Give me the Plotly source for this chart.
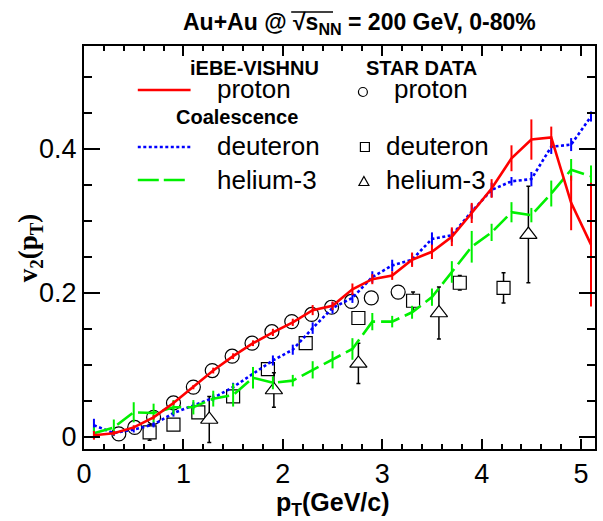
import plotly.graph_objects as go

# ---------------- data ----------------
pt_model = [0.1, 0.3, 0.5, 0.7, 0.9, 1.1, 1.3, 1.5, 1.7, 1.9, 2.1, 2.3, 2.5,
            2.7, 2.9, 3.1, 3.3, 3.5, 3.7, 3.9, 4.1, 4.3, 4.5, 4.7, 4.9, 5.1]

proton_model = [0.002, 0.005, 0.013, 0.027, 0.047, 0.069, 0.092, 0.112, 0.130, 0.145,
                0.159, 0.176, 0.182, 0.205, 0.219, 0.224, 0.246, 0.257, 0.278, 0.311,
                0.345, 0.387, 0.413, 0.416, 0.325, 0.267]
proton_model_err = [0.006, 0.003, 0.003, 0.003, 0.003, 0.003, 0.004, 0.004, 0.004, 0.005,
                    0.005, 0.007, 0.006, 0.008, 0.007, 0.006, 0.010, 0.010, 0.013, 0.014,
                    0.013, 0.018, 0.028, 0.015, 0.038, 0.086]

deuteron_model = [0.016, 0.005, 0.010, 0.017, 0.033, 0.043, 0.054, 0.069, 0.088, 0.106,
                  0.121, 0.151, 0.179, 0.193, 0.222, 0.238, 0.246, 0.275, 0.280, 0.313,
                  0.343, 0.355, 0.358, 0.403, 0.406, 0.445]
deuteron_model_err = [0.009, 0.004, 0.004, 0.004, 0.005, 0.005, 0.005, 0.006, 0.006, 0.007,
                      0.007, 0.008, 0.008, 0.007, 0.008, 0.008, 0.008, 0.009, 0.009, 0.010,
                      0.010, 0.006, 0.010, 0.010, 0.009, 0.007]

helium3_model = [0.005, 0.013, 0.034, 0.033, 0.041, 0.041, 0.053, 0.058, 0.082, 0.075,
                 0.078, 0.093, 0.107, 0.122, 0.160, 0.160, 0.173, 0.194, 0.229, 0.264,
                 0.284, 0.312, 0.308, 0.338, 0.371, 0.362]
helium3_model_err = [0.008, 0.011, 0.014, 0.013, 0.010, 0.010, 0.011, 0.016, 0.015, 0.009,
                     0.008, 0.012, 0.012, 0.015, 0.012, 0.008, 0.009, 0.012, 0.015, 0.022,
                     0.012, 0.014, 0.010, 0.018, 0.015, 0.015]

star_p_pt = [0.35, 0.51, 0.70, 0.90, 1.10, 1.29, 1.49, 1.69, 1.89, 2.09, 2.29, 2.49, 2.69, 2.89, 3.16]
star_p_v2 = [0.004, 0.013, 0.027, 0.047, 0.069, 0.092, 0.112, 0.130, 0.146, 0.160,
             0.170, 0.180, 0.188, 0.193, 0.201]

star_d_pt = [0.66, 0.90, 1.15, 1.50, 1.85, 2.23, 2.76, 3.31, 3.78, 4.22]
star_d_v2 = [0.006, 0.017, 0.034, 0.056, 0.094, 0.130, 0.165, 0.189, 0.214, 0.207]
star_d_err = [0.011, 0.003, 0.003, 0.003, 0.004, 0.004, 0.005, 0.012, 0.010, 0.021]

star_he_pt = [1.26, 1.91, 2.76, 3.57, 4.47]
star_he_v2 = [0.024, 0.065, 0.102, 0.172, 0.281]
star_he_err = [0.032, 0.024, 0.028, 0.036, 0.067]

x_ticks = [0, 1, 2, 3, 4, 5]
y_ticks = [0, 0.2, 0.4]
y_tick_labels = ["0", "0.2", "0.4"]

# ---------------- layout helpers (pixel -> paper) ----------------
W, H = 603, 521
L, R, T, B = 84, 597, 46, 449


def PX(x):
    return (x - L) / (R - L)


def PY(y):
    return (B - y) / (B - T)


SANS = "Liberation Sans, Arial, sans-serif"
SERIF = "Liberation Serif, Times New Roman, serif"

fig = go.Figure()

# STAR data first (filled-white markers hide their own error bars inside)
fig.add_trace(go.Scatter(
    x=star_p_pt, y=star_p_v2, mode="markers",
    marker=dict(symbol="circle", size=14, color="rgba(255,255,255,0)", line=dict(width=1.2, color="black")),
    showlegend=False))
fig.add_trace(go.Scatter(
    x=star_d_pt, y=star_d_v2, mode="markers",
    marker=dict(symbol="square", size=13, color="white", line=dict(width=1.2, color="black")),
    error_y=dict(type="data", array=star_d_err, color="black", thickness=1.5, width=2),
    showlegend=False))
fig.add_trace(go.Scatter(
    x=star_he_pt, y=star_he_v2, mode="markers",
    marker=dict(symbol="triangle-up", size=15, color="white", line=dict(width=1.2, color="black")),
    error_y=dict(type="data", array=star_he_err, color="black", thickness=1.5, width=2),
    showlegend=False))

# model curves
fig.add_trace(go.Scatter(
    x=pt_model, y=deuteron_model, mode="lines",
    line=dict(color="rgb(0,0,255)", width=2.6, dash="3px,2.5px"),
    error_y=dict(type="data", array=deuteron_model_err, color="rgb(0,0,255)", thickness=2, width=0),
    showlegend=False))
fig.add_trace(go.Scatter(
    x=pt_model, y=helium3_model, mode="lines",
    line=dict(color="rgb(0,240,0)", width=2.6, dash="19px,6px"),
    error_y=dict(type="data", array=helium3_model_err, color="rgb(0,240,0)", thickness=2, width=0),
    showlegend=False))
fig.add_trace(go.Scatter(
    x=pt_model, y=proton_model, mode="lines",
    line=dict(color="rgb(255,0,0)", width=2.6),
    error_y=dict(type="data", array=proton_model_err, color="rgb(255,0,0)", thickness=2, width=0),
    showlegend=False))

axis_common = dict(
    showgrid=False, zeroline=False, showline=True, linecolor="black", linewidth=2,
    mirror="ticks", ticks="inside", tickcolor="black", tickwidth=1.5,
    tickfont=dict(family=SANS, size=27, color="black"),
)

fig.update_xaxes(range=[0, 5.14], tickvals=x_ticks, ticklen=10,
                 minor=dict(dtick=0.2, ticks="inside", ticklen=5, tickcolor="black", tickwidth=1.5),
                 **axis_common)
fig.update_yaxes(range=[-0.017, 0.543], tickvals=y_ticks, ticktext=y_tick_labels, ticklen=16,
                 minor=dict(dtick=0.05, ticks="inside", ticklen=8, tickcolor="black", tickwidth=1.5),
                 **axis_common)

ann = []
# title
ann.append(dict(x=PX(361), y=PY(23), xref="paper", yref="paper", showarrow=False,
                xanchor="center", yanchor="middle",
                text="<b>Au+Au @ √s<sub>NN</sub> = 200 GeV, 0-80%</b>",
                font=dict(family=SANS, size=23, color="black")))
# axis titles
ann.append(dict(x=PX(334), y=PY(504), xref="paper", yref="paper", showarrow=False,
                xanchor="center", yanchor="middle",
                text="<b>p<sub>T</sub>(GeV/c)</b>", font=dict(family=SANS, size=25, color="black")))
ann.append(dict(x=PX(30), y=PY(248), xref="paper", yref="paper", showarrow=False,
                xanchor="center", yanchor="middle", textangle=-90,
                text="<b>v<sub>2</sub>(p<sub>T</sub>)</b>", font=dict(family=SERIF, size=27, color="black")))

# legend headers
for txt, cx, cy in [("iEBE-VISHNU", 255, 68), ("STAR DATA", 423, 68), ("Coalescence", 238, 117)]:
    ann.append(dict(x=PX(cx), y=PY(cy), xref="paper", yref="paper", showarrow=False,
                    xanchor="center", yanchor="middle", text="<b>" + txt + "</b>",
                    font=dict(family=SANS, size=20, color="black")))
# legend labels
for txt, lx, cy in [("proton", 216, 89), ("deuteron", 216, 146), ("helium-3", 216, 180),
                    ("proton", 393, 89), ("deuteron", 385, 146), ("helium-3", 385, 180)]:
    ann.append(dict(x=PX(lx), y=PY(cy), xref="paper", yref="paper", showarrow=False,
                    xanchor="left", yanchor="middle", text=txt,
                    font=dict(family=SANS, size=26, color="black")))

shapes = []
# overline of the square root in the title
shapes.append(dict(type="line", xref="paper", yref="paper", x0=PX(292), x1=PX(334), y0=PY(12), y1=PY(12),
                   line=dict(color="black", width=1.5)))
# legend line samples
shapes.append(dict(type="line", xref="paper", yref="paper", x0=PX(138), x1=PX(191), y0=PY(90), y1=PY(90),
                   line=dict(color="rgb(255,0,0)", width=2.6)))
shapes.append(dict(type="line", xref="paper", yref="paper", x0=PX(138), x1=PX(191), y0=PY(147), y1=PY(147),
                   line=dict(color="rgb(0,0,255)", width=2.6, dash="3px,2.5px")))
shapes.append(dict(type="line", xref="paper", yref="paper", x0=PX(138), x1=PX(186), y0=PY(180), y1=PY(180),
                   line=dict(color="rgb(0,240,0)", width=2.6, dash="21px,5px")))
# legend marker samples
shapes.append(dict(type="circle", xref="paper", yref="paper", x0=PX(359.5), x1=PX(368.5), y0=PY(96.5), y1=PY(87.5),
                   line=dict(color="black", width=1.2)))
shapes.append(dict(type="rect", xref="paper", yref="paper", x0=PX(361.5), x1=PX(370.5), y0=PY(151.5), y1=PY(142.5),
                   line=dict(color="black", width=1.2)))
tx0, tx1, txm, ty0, ty1 = PX(360), PX(370), PX(365), PY(185.5), PY(176.5)
shapes.append(dict(type="path", xref="paper", yref="paper",
                   path=f"M {tx0} {ty0} L {tx1} {ty0} L {txm} {ty1} Z",
                   line=dict(color="black", width=1.2)))

fig.update_layout(
    width=W, height=H,
    margin=dict(l=L, r=W - R, t=T, b=H - B, pad=0),
    paper_bgcolor="white", plot_bgcolor="white",
    showlegend=False,
    annotations=ann, shapes=shapes,
)

fig.write_html("out.html")
